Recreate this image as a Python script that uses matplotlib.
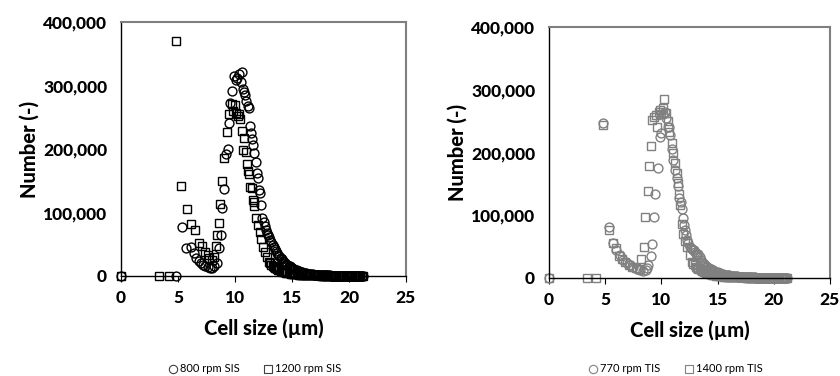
import matplotlib.pyplot as plt
from matplotlib.lines import Line2D
from matplotlib.ticker import FuncFormatter

# shared size bins for the tail of every distribution (um)
tail_size = [13.0, 13.1, 13.2, 13.3, 13.4, 13.5, 13.6, 13.7, 13.8, 13.9,
             14.0, 14.1, 14.2, 14.3, 14.4, 14.5, 14.6, 14.7, 14.8, 14.9,
             15.0, 15.1, 15.2, 15.3, 15.4, 15.5, 15.6, 15.7, 15.8, 15.9,
             16.0, 16.1, 16.2, 16.3, 16.4, 16.5, 16.6, 16.7, 16.8, 16.9,
             17.0, 17.1, 17.2, 17.3, 17.4, 17.5, 17.6, 17.7, 17.8, 17.9,
             18.0, 18.1, 18.2, 18.3, 18.4, 18.5, 18.6, 18.7, 18.8, 18.9,
             19.0, 19.1, 19.2, 19.3, 19.4, 19.5, 19.6, 19.7, 19.8, 19.9,
             20.0, 20.1, 20.2, 20.3, 20.4, 20.5, 20.6, 20.7, 20.8, 20.9,
             21.0, 21.1, 21.2]

# 800 rpm SIS
sis800_size = [0, 4.8, 5.35, 5.7, 6.1, 6.4, 6.6, 6.8, 7.0, 7.2, 7.4, 7.6, 7.8, 8.0,
               8.2, 8.4, 8.6, 8.8, 8.9, 9.05, 9.2, 9.35, 9.5, 9.6, 9.75, 9.9, 10.05,
               10.2, 10.35, 10.5, 10.6, 10.7, 10.8, 10.9, 11.0, 11.1, 11.2, 11.3, 11.4,
               11.5, 11.6, 11.7, 11.8, 11.9, 12.0, 12.1, 12.2, 12.3, 12.4, 12.5, 12.6,
               12.7, 12.8, 12.9]
sis800_count = [0, 0, 77000, 44000, 46000, 36000, 28000, 24000, 20000, 17000, 15000,
                14000, 13000, 13000, 15000, 20000, 44000, 64000, 107000, 137000, 192000,
                200000, 241000, 273000, 292000, 315000, 308000, 312000, 318000, 305000,
                322000, 294000, 290000, 285000, 275000, 268000, 265000, 236000, 225000,
                216000, 207000, 194000, 180000, 162000, 155000, 136000, 130000, 112000,
                92000, 85000, 78000, 72000, 67000, 64000]
sis800_tail = [62000, 57000, 53000, 49000, 45000, 42000, 39000, 36000, 33000, 31000,
               28000, 26000, 24000, 22000, 20500, 19000, 17500, 16000, 15000, 13800,
               12600, 11500, 10500, 9600, 8800, 8000, 7300, 6700, 6100, 5600,
               5100, 4700, 4300, 3900, 3600, 3300, 3000, 2700, 2500, 2300,
               2100, 1900, 1800, 1600, 1500, 1400, 1300, 1200, 1100, 1000,
               950, 900, 850, 800, 750, 700, 650, 600, 580, 560,
               540, 520, 500, 480, 460, 440, 420, 400, 380, 360,
               340, 320, 300, 280, 260, 240, 220, 200, 180, 160,
               140, 120, 100]

# 1200 rpm SIS
sis1200_size = [0, 3.35, 4.2, 4.85, 5.3, 5.75, 6.1, 6.5, 6.85, 7.1, 7.4, 7.6, 7.75,
                8.0, 8.15, 8.3, 8.45, 8.6, 8.7, 8.85, 9.05, 9.3, 9.5, 9.7, 9.85, 10.0,
                10.1, 10.25, 10.35, 10.45, 10.6, 10.7, 10.8, 10.95, 11.05, 11.1, 11.2,
                11.35, 11.5, 11.55, 11.65, 11.7, 11.85, 12.0, 12.15, 12.3, 12.45, 12.6,
                12.8]
sis1200_count = [0, 0, 0, 370000, 142000, 105000, 82000, 72000, 52000, 47000, 38000,
                 33000, 28000, 25000, 30000, 47000, 65000, 83000, 113000, 149000, 186000,
                 226000, 255000, 271000, 260000, 270000, 257000, 252000, 255000, 248000,
                 228000, 198000, 217000, 195000, 176000, 165000, 160000, 140000, 138000,
                 120000, 117000, 110000, 91000, 80000, 70000, 58000, 45000, 38000, 30000]
sis1200_tail = [22000, 20000, 18000, 16000, 14500, 13000, 12000, 11000, 10000, 9200,
                8400, 7700, 7000, 6400, 5900, 5400, 5000, 4600, 4200, 3900,
                3600, 3300, 3100, 2900, 2700, 2500, 2300, 2100, 2000, 1900,
                1800, 1700, 1600, 1500, 1400, 1300, 1200, 1150, 1100, 1050,
                1000, 950, 900, 850, 800, 760, 720, 680, 640, 600,
                570, 540, 510, 480, 450, 420, 400, 380, 360, 340,
                320, 300, 290, 280, 270, 260, 250, 240, 230, 220,
                210, 200, 190, 180, 170, 160, 150, 140, 130, 120,
                110, 100, 90]

# 770 rpm TIS
tis770_size = [0, 4.8, 5.3, 5.7, 6.0, 6.3, 6.6, 6.9, 7.2, 7.5, 7.8, 8.1, 8.4, 8.6,
               8.75, 8.85, 9.07, 9.2, 9.35, 9.46, 9.67, 9.85, 10.0, 10.15, 10.3, 10.45,
               10.55, 10.65, 10.75, 10.9, 11.06, 11.2, 11.35, 11.5, 11.6, 11.7, 11.8,
               11.9, 12.0, 12.1, 12.2, 12.3, 12.4, 12.5, 12.6, 12.7, 12.8, 12.9]
tis770_count = [0, 247000, 82000, 55000, 44000, 36000, 29000, 24000, 20000, 17000,
                14000, 12000, 11000, 12000, 16000, 21000, 35000, 54000, 97000, 134000,
                176000, 225000, 231000, 262000, 265000, 255000, 241000, 240000, 228000,
                205000, 188000, 172000, 160000, 146000, 128000, 121000, 110000, 96000,
                85000, 76000, 68000, 60000, 55000, 50000, 48000, 46000, 45000, 44000]
tis770_tail = [42000, 39000, 36000, 38000, 33000, 28000, 26000, 24000, 22000, 20500,
               19000, 17500, 16200, 15000, 14000, 13000, 12000, 11100, 10300, 9600,
               8900, 8200, 7600, 7000, 6500, 6000, 5500, 5100, 4700, 4400,
               4100, 3800, 3500, 3200, 3000, 2800, 2600, 2400, 2200, 2050,
               1900, 1750, 1600, 1500, 1400, 1300, 1200, 1100, 1050, 1000,
               950, 900, 850, 800, 760, 720, 680, 640, 600, 570,
               540, 510, 480, 460, 440, 420, 400, 380, 360, 340,
               320, 300, 280, 260, 240, 220, 200, 190, 180, 170,
               160, 150, 140]

# 1400 rpm TIS
tis1400_size = [0, 3.35, 4.2, 4.8, 5.3, 5.7, 6.0, 6.2, 6.5, 6.8, 7.1, 7.4, 7.7, 8.0,
                8.15, 8.45, 8.57, 8.77, 8.93, 9.08, 9.2, 9.36, 9.5, 9.65, 9.8, 9.9,
                10.0, 10.1, 10.27, 10.4, 10.55, 10.7, 10.9, 11.05, 11.2, 11.35, 11.45,
                11.55, 11.65, 11.8, 11.95, 12.1, 12.25, 12.5, 12.7, 12.85]
tis1400_count = [0, 0, 0, 244000, 76000, 55000, 48000, 35000, 30000, 25000, 21000,
                 18000, 16000, 14000, 31000, 50000, 98000, 138000, 178000, 211000,
                 251000, 257000, 260000, 240000, 265000, 268000, 262000, 271000, 285000,
                 263000, 250000, 233000, 215000, 200000, 183000, 168000, 152000, 134000,
                 116000, 86000, 70000, 59000, 50000, 36000, 26000, 22000]
tis1400_tail = [20000, 18000, 16500, 15000, 13800, 12600, 11600, 10700, 9800, 9000,
                8300, 7600, 7000, 6400, 5900, 5400, 5000, 4600, 4200, 3900,
                3600, 3300, 3100, 2900, 2700, 2500, 2300, 2100, 2000, 1900,
                1800, 1700, 1600, 1500, 1400, 1300, 1250, 1200, 1100, 1050,
                1000, 950, 900, 850, 800, 760, 720, 680, 640, 600,
                570, 540, 510, 480, 450, 420, 400, 380, 360, 340,
                320, 310, 300, 280, 270, 260, 250, 240, 230, 220,
                210, 200, 190, 180, 170, 160, 150, 140, 130, 120,
                110, 100, 90]

plt.rcParams['font.family'] = ['Lato', 'DejaVu Sans']

fig = plt.figure(figsize=(8.4, 3.76), dpi=100)
ax1 = fig.add_axes([121 / 840, 1 - 276 / 376, 285 / 840, 254 / 376])
ax2 = fig.add_axes([549 / 840, 1 - 278 / 376, 281 / 840, 251 / 376])


def thousands(v, pos):
    return f"{int(v):,}"


def style_axes(ax):
    ax.set_xlim(0, 25)
    ax.set_ylim(0, 400000)
    ax.set_xticks([0, 5, 10, 15, 20, 25])
    ax.set_yticks([0, 100000, 200000, 300000, 400000])
    ax.yaxis.set_major_formatter(FuncFormatter(thousands))
    ax.tick_params(axis='x', direction='out', length=4, width=0.8, pad=6,
                   labelsize=12.5)
    ax.tick_params(axis='y', direction='out', length=0, pad=10, labelsize=12.5)
    for lab in ax.get_xticklabels() + ax.get_yticklabels():
        lab.set_fontweight('black')
    for side in ['top', 'right']:
        ax.spines[side].set_color('#7f7f7f')
        ax.spines[side].set_linewidth(1.5)
    for side in ['left', 'bottom']:
        ax.spines[side].set_color('black')
        ax.spines[side].set_linewidth(1.0)
    ax.set_xlabel('Cell size (µm)', fontsize=14.5, fontweight='black', labelpad=9)
    ax.set_ylabel('Number (-)', fontsize=14.5, fontweight='black', labelpad=3)


def scatter(ax, size, count, tail, marker, color):
    ax.plot(size + tail_size, count + tail, linestyle='none', marker=marker,
            markersize=6.4 if marker == 'o' else 6.0, markerfacecolor='none',
            markeredgecolor=color, markeredgewidth=1.0, clip_on=False)


scatter(ax1, sis800_size, sis800_count, sis800_tail, 'o', 'black')
scatter(ax1, sis1200_size, sis1200_count, sis1200_tail, 's', 'black')
scatter(ax2, tis770_size, tis770_count, tis770_tail, 'o', '#808080')
scatter(ax2, tis1400_size, tis1400_count, tis1400_tail, 's', '#808080')

for ax in (ax1, ax2):
    style_axes(ax)


def legend_for(labels, color, cx):
    handles = [Line2D([], [], linestyle='none', marker=m, markersize=6,
                      markerfacecolor='none', markeredgecolor=color,
                      markeredgewidth=0.8, label=t)
               for m, t in zip(['o', 's'], labels)]
    fig.legend(handles=handles, loc='center', bbox_to_anchor=(cx / 840, 1 - 369 / 376),
               ncol=2, frameon=False, fontsize=8, handlelength=0.7,
               handletextpad=0.3, columnspacing=2.2, borderpad=0)


legend_for(['800 rpm SIS', '1200 rpm SIS'], '#404040', 255)
legend_for(['770 rpm TIS', '1400 rpm TIS'], '#808080', 676)

fig.savefig('out.png', dpi=100)
